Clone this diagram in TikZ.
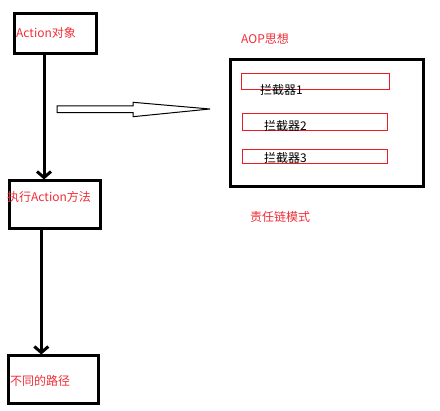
\documentclass[tikz,border=0pt]{standalone}
\usepackage{fontspec}
\setmainfont{Noto Sans CJK SC}
\usetikzlibrary{arrows.meta}
\definecolor{pred}{RGB}{237,28,36}
\definecolor{tred}{RGB}{240,45,55}
\begin{document}
\begin{tikzpicture}[x=1pt,y=-1pt,
  bigbox/.style={draw=black,line width=3pt,rectangle,inner sep=0pt,anchor=north west},
  redbox/.style={draw=pred,line width=1pt,rectangle,inner sep=0pt,anchor=north west},
  rtext/.style={text=tred,font=\fontsize{12}{14}\selectfont,anchor=west,inner sep=0pt},
  btext/.style={text=black,font=\fontsize{12}{14}\selectfont,anchor=west,inner sep=0pt},
  conn/.style={line width=3pt,-{Straight Barb[length=6pt,width=14pt]}}]
\useasboundingbox (0,0) rectangle (440,411);
% left boxes
\node[bigbox,minimum width=82pt,minimum height=40pt] (b1) at (12.5,12.5) {};
\node[bigbox,minimum width=91pt,minimum height=48pt] (b2) at (7.5,179.5) {};
\node[bigbox,minimum width=90pt,minimum height=48pt] (b3) at (6.5,354.5) {};
\node[rtext] (t1) at (16,33) {Action对象};
\node[rtext] (t2) at (7,197) {执行Action方法};
\node[rtext] (t3) at (10,381) {不同的路径};
% connectors
\draw[conn] (b1.south -| 44,0) -- (b2.north -| 44,0);
\draw[conn] (b2.south -| 41.3,0) -- (b3.north -| 41.3,0);
% hollow arrow
\draw[line width=1pt] (57,106) -- (133,106) -- (133,102.3) -- (210,109) -- (133,116.7) -- (133,112.7) -- (57,112.7) -- cycle;
% AOP box
\node[bigbox,minimum width=193pt,minimum height=127pt] (aop) at (228.5,58.5) {};
\node[rtext] (aopt) at (241,39) {AOP思想};
\node[redbox,minimum width=148pt,minimum height=16pt] (r1) at (241.3,73.3) {};
\node[redbox,minimum width=145pt,minimum height=17.5pt] (r2) at (242.3,112.7) {};
\node[redbox,minimum width=145pt,minimum height=14pt] (r3) at (242.3,149.3) {};
\node[btext] (i1) at (260,90) {拦截器1};
\node[btext] (i2) at (264,126) {拦截器2};
\node[btext] (i3) at (264,158) {拦截器3};
\node[rtext] (zr) at (250,217) {责任链模式};
\end{tikzpicture}
\end{document}
